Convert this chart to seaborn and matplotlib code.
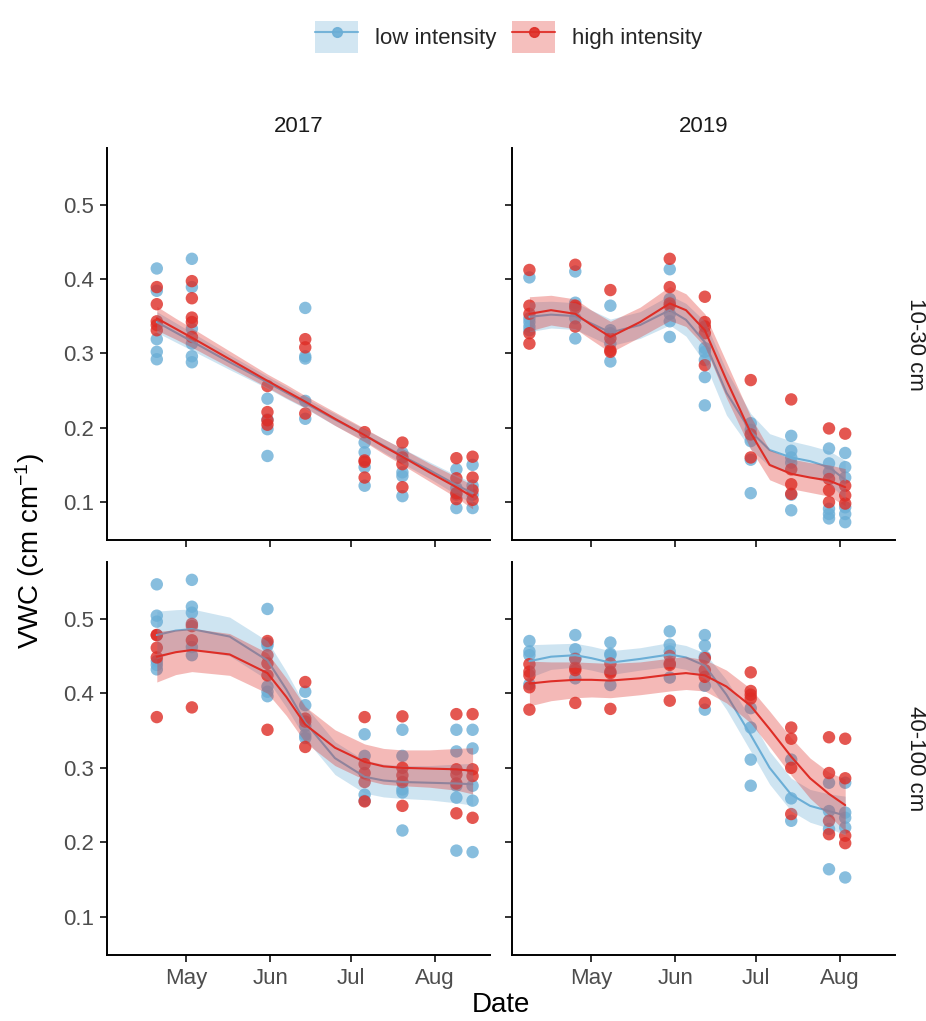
import numpy as np
import pandas as pd
import matplotlib
matplotlib.use("Agg")
import matplotlib.pyplot as plt
import matplotlib.dates as mdates
from matplotlib.patches import Patch
from matplotlib.lines import Line2D
from matplotlib.legend_handler import HandlerTuple
import seaborn as sns

# ---------------- data ----------------
years = ["2017", "2019"]
depths = ["10-30 cm", "40-100 cm"]
treatments = ["low intensity", "high intensity"]
palette = {"low intensity": "#6BAED6", "high intensity": "#DE2D26"}

dates_2017 = ["04-20", "05-03", "05-31", "06-14", "07-06", "07-20", "08-09", "08-15"]
dates_2019 = ["04-08", "04-25", "05-08", "05-30", "06-12", "06-29", "07-14", "07-28", "08-03"]

low_2017_shallow = [
    [0.414, 0.384, 0.319, 0.302, 0.292],
    [0.427, 0.389, 0.333, 0.313, 0.296, 0.288],
    [0.239, 0.211, 0.198, 0.162],
    [0.361, 0.296, 0.293, 0.236, 0.212],
    [0.180, 0.167, 0.147, 0.122],
    [0.166, 0.140, 0.135, 0.108],
    [0.144, 0.119, 0.110, 0.092],
    [0.150, 0.122, 0.110, 0.092],
]
high_2017_shallow = [
    [0.389, 0.366, 0.343, 0.338, 0.331],
    [0.397, 0.374, 0.348, 0.342, 0.322],
    [0.256, 0.221, 0.210, 0.204],
    [0.319, 0.308, 0.219],
    [0.194, 0.156, 0.154, 0.133],
    [0.180, 0.160, 0.151, 0.120],
    [0.159, 0.132, 0.112, 0.104],
    [0.161, 0.133, 0.116, 0.103],
]
low_2017_deep = [
    [0.546, 0.504, 0.496, 0.443, 0.438, 0.432],
    [0.552, 0.516, 0.508, 0.462, 0.451],
    [0.513, 0.467, 0.464, 0.409, 0.402, 0.396],
    [0.402, 0.384, 0.356, 0.344, 0.340],
    [0.345, 0.316, 0.264, 0.256],
    [0.351, 0.316, 0.271, 0.267, 0.216],
    [0.351, 0.322, 0.276, 0.260, 0.189],
    [0.351, 0.326, 0.276, 0.256, 0.187],
]
high_2017_deep = [
    [0.478, 0.478, 0.461, 0.448, 0.368],
    [0.493, 0.490, 0.471, 0.381],
    [0.470, 0.451, 0.440, 0.424, 0.351],
    [0.415, 0.366, 0.362, 0.328],
    [0.368, 0.305, 0.293, 0.281, 0.255],
    [0.369, 0.300, 0.290, 0.281, 0.249],
    [0.372, 0.298, 0.291, 0.279, 0.239],
    [0.372, 0.298, 0.289, 0.233],
]
low_2019_shallow = [
    [0.402, 0.347, 0.342, 0.336, 0.331],
    [0.410, 0.368, 0.347, 0.320],
    [0.364, 0.331, 0.327, 0.313, 0.289],
    [0.413, 0.373, 0.353, 0.343, 0.322],
    [0.307, 0.302, 0.291, 0.268, 0.230],
    [0.206, 0.197, 0.182, 0.157, 0.112],
    [0.189, 0.169, 0.160, 0.153, 0.110, 0.089],
    [0.172, 0.152, 0.140, 0.091, 0.084, 0.078],
    [0.166, 0.147, 0.133, 0.093, 0.084, 0.073],
]
high_2019_shallow = [
    [0.412, 0.364, 0.353, 0.327, 0.313],
    [0.419, 0.364, 0.361, 0.336],
    [0.385, 0.320, 0.304, 0.302],
    [0.427, 0.389, 0.367, 0.364],
    [0.376, 0.342, 0.336, 0.327, 0.284],
    [0.264, 0.191, 0.160],
    [0.238, 0.144, 0.124, 0.111],
    [0.199, 0.131, 0.116, 0.100],
    [0.192, 0.122, 0.109, 0.098],
]
low_2019_deep = [
    [0.470, 0.456, 0.451, 0.412],
    [0.478, 0.459, 0.447, 0.420],
    [0.468, 0.453, 0.451, 0.411],
    [0.483, 0.465, 0.456, 0.421],
    [0.478, 0.464, 0.449, 0.410, 0.378],
    [0.380, 0.354, 0.311, 0.276],
    [0.311, 0.259, 0.229],
    [0.280, 0.242, 0.218, 0.164],
    [0.280, 0.240, 0.233, 0.220, 0.153],
]
high_2019_deep = [
    [0.439, 0.429, 0.424, 0.408, 0.378],
    [0.446, 0.434, 0.431, 0.387],
    [0.440, 0.429, 0.427, 0.379],
    [0.450, 0.440, 0.438, 0.390],
    [0.447, 0.431, 0.422, 0.387],
    [0.428, 0.403, 0.398, 0.393],
    [0.354, 0.339, 0.300, 0.238],
    [0.341, 0.293, 0.229, 0.211],
    [0.339, 0.286, 0.209, 0.199],
]

# smooth fits (mean and half-width of confidence band)
fit_dates_2017 = ["04-20", "04-27", "05-03", "05-17", "05-31", "06-07", "06-14",
                  "06-25", "07-06", "07-13", "07-20", "07-30", "08-09", "08-15"]
fit_dates_2019 = ["04-08", "04-16", "04-25", "05-01", "05-08", "05-19", "05-30", "06-05",
                  "06-12", "06-20", "06-29", "07-06", "07-14", "07-21", "07-28", "08-03"]

low_2017_shallow_fit = [0.342, 0.328, 0.316, 0.288, 0.261, 0.247, 0.233, 0.211, 0.190, 0.176, 0.162, 0.143, 0.123, 0.112]
low_2017_shallow_ci = [0.014, 0.013, 0.012, 0.010, 0.008, 0.008, 0.007, 0.008, 0.008, 0.009, 0.010, 0.011, 0.013, 0.014]
high_2017_shallow_fit = [0.347, 0.333, 0.321, 0.292, 0.263, 0.249, 0.235, 0.212, 0.190, 0.175, 0.161, 0.140, 0.120, 0.107]
high_2017_shallow_ci = [0.016, 0.014, 0.013, 0.011, 0.009, 0.009, 0.008, 0.009, 0.009, 0.010, 0.011, 0.012, 0.014, 0.016]

low_2017_deep_fit = [0.478, 0.484, 0.486, 0.476, 0.444, 0.405, 0.361, 0.313, 0.288, 0.283, 0.281, 0.280, 0.279, 0.278]
low_2017_deep_ci = [0.032, 0.028, 0.027, 0.026, 0.026, 0.024, 0.022, 0.022, 0.022, 0.022, 0.022, 0.023, 0.026, 0.028]
high_2017_deep_fit = [0.449, 0.455, 0.458, 0.452, 0.427, 0.395, 0.358, 0.327, 0.308, 0.302, 0.300, 0.299, 0.298, 0.296]
high_2017_deep_ci = [0.034, 0.030, 0.029, 0.028, 0.027, 0.025, 0.024, 0.024, 0.024, 0.024, 0.024, 0.025, 0.028, 0.031]

low_2019_shallow_fit = [0.349, 0.352, 0.350, 0.340, 0.328, 0.338, 0.358, 0.345, 0.315, 0.247, 0.195, 0.170, 0.160, 0.155, 0.147, 0.130]
low_2019_shallow_ci = [0.020, 0.018, 0.018, 0.018, 0.018, 0.018, 0.020, 0.022, 0.028, 0.030, 0.024, 0.022, 0.022, 0.021, 0.022, 0.026]
high_2019_shallow_fit = [0.353, 0.358, 0.353, 0.338, 0.322, 0.342, 0.367, 0.358, 0.331, 0.264, 0.193, 0.150, 0.138, 0.133, 0.129, 0.120]
high_2019_shallow_ci = [0.023, 0.020, 0.020, 0.020, 0.021, 0.020, 0.023, 0.022, 0.022, 0.024, 0.022, 0.020, 0.020, 0.020, 0.021, 0.025]

low_2019_deep_fit = [0.443, 0.449, 0.451, 0.447, 0.441, 0.446, 0.452, 0.448, 0.437, 0.398, 0.344, 0.300, 0.264, 0.249, 0.242, 0.236]
low_2019_deep_ci = [0.022, 0.017, 0.016, 0.016, 0.016, 0.015, 0.016, 0.016, 0.017, 0.020, 0.022, 0.022, 0.022, 0.022, 0.023, 0.026]
high_2019_deep_fit = [0.413, 0.416, 0.418, 0.418, 0.417, 0.420, 0.425, 0.427, 0.424, 0.409, 0.383, 0.352, 0.315, 0.286, 0.265, 0.250]
high_2019_deep_ci = [0.030, 0.026, 0.024, 0.023, 0.023, 0.022, 0.022, 0.022, 0.021, 0.022, 0.023, 0.024, 0.025, 0.027, 0.029, 0.035]

# ---------------- assemble tables ----------------
def to_date(md):
    # common (dummy) year so both panels share the day-of-year axis
    return pd.Timestamp("2000-" + md)

point_sets = {
    ("2017", "10-30 cm"): (dates_2017, low_2017_shallow, high_2017_shallow),
    ("2017", "40-100 cm"): (dates_2017, low_2017_deep, high_2017_deep),
    ("2019", "10-30 cm"): (dates_2019, low_2019_shallow, high_2019_shallow),
    ("2019", "40-100 cm"): (dates_2019, low_2019_deep, high_2019_deep),
}
fit_sets = {
    ("2017", "10-30 cm"): (fit_dates_2017, (low_2017_shallow_fit, low_2017_shallow_ci), (high_2017_shallow_fit, high_2017_shallow_ci)),
    ("2017", "40-100 cm"): (fit_dates_2017, (low_2017_deep_fit, low_2017_deep_ci), (high_2017_deep_fit, high_2017_deep_ci)),
    ("2019", "10-30 cm"): (fit_dates_2019, (low_2019_shallow_fit, low_2019_shallow_ci), (high_2019_shallow_fit, high_2019_shallow_ci)),
    ("2019", "40-100 cm"): (fit_dates_2019, (low_2019_deep_fit, low_2019_deep_ci), (high_2019_deep_fit, high_2019_deep_ci)),
}

rows = []
for (yr, dp), (dts, low, high) in point_sets.items():
    for trt, groups in zip(treatments, (low, high)):
        for d, vals in zip(dts, groups):
            for v in vals:
                rows.append(dict(year=yr, depth=dp, treatment=trt, date=to_date(d), vwc=v))
points = pd.DataFrame(rows)

frows = []
for (yr, dp), (dts, lowf, highf) in fit_sets.items():
    for trt, (fit, ci) in zip(treatments, (lowf, highf)):
        for d, m, h in zip(dts, fit, ci):
            frows.append(dict(year=yr, depth=dp, treatment=trt, date=to_date(d),
                              fit=m, lo=m - h, hi=m + h))
fits = pd.DataFrame(frows)

# ---------------- style ----------------
sns.set_theme(style="ticks")
plt.rcParams["font.family"] = ["Liberation Sans", "DejaVu Sans"]
plt.rcParams["mathtext.default"] = "regular"

W, H = 926, 1021
fig = plt.figure(figsize=(W / 100, H / 100), dpi=100)

col_x = {"2017": (107, 490), "2019": (512, 895)}
row_y = {"10-30 cm": (148, 540), "40-100 cm": (562, 955)}

# shared limits (ggplot-like 5% expansion)
dmin, dmax = points["date"].min(), points["date"].max()
span = dmax - dmin
xlim = (dmin - span * 0.05, dmax + span * 0.05)
ymin = min(points["vwc"].min(), fits["lo"].min())
ymax = max(points["vwc"].max(), fits["hi"].max())
yr_ = ymax - ymin
ylim = (ymin - 0.05 * yr_, ymax + 0.05 * yr_)

tick_col = "#4D4D4D"
fs_tick = 16
fs_title = 20

for ci_, yr in enumerate(years):
    for ri, dp in enumerate(depths):
        x0, x1 = col_x[yr]
        y0, y1 = row_y[dp]
        ax = fig.add_axes([x0 / W, 1 - y1 / H, (x1 - x0) / W, (y1 - y0) / H])
        sub = points[(points.year == yr) & (points.depth == dp)]
        sns.scatterplot(data=sub, x="date", y="vwc", hue="treatment",
                        hue_order=treatments, palette=palette, s=80,
                        alpha=0.8, linewidth=0, legend=False, ax=ax, zorder=2)
        fsub = fits[(fits.year == yr) & (fits.depth == dp)]
        for k, trt in enumerate(treatments):
            g = fsub[fsub.treatment == trt]
            ax.fill_between(g["date"], g["lo"], g["hi"], color=palette[trt],
                            alpha=0.33, linewidth=0, zorder=3 + 2 * k)
            sns.lineplot(x=g["date"], y=g["fit"], color=palette[trt],
                         linewidth=1.5, ax=ax, zorder=4 + 2 * k)
        ax.set_xlim(xlim)
        ax.set_ylim(ylim)
        ax.set_xlabel("")
        ax.set_ylabel("")
        ax.set_yticks([0.1, 0.2, 0.3, 0.4, 0.5])
        ax.yaxis.set_major_formatter(matplotlib.ticker.FormatStrFormatter("%.1f"))
        ax.xaxis.set_major_locator(mdates.MonthLocator(bymonth=[5, 6, 7, 8]))
        ax.xaxis.set_major_formatter(mdates.DateFormatter("%b"))
        for s in ("top", "right"):
            ax.spines[s].set_visible(False)
        for s in ("left", "bottom"):
            ax.spines[s].set_linewidth(1.4)
            ax.spines[s].set_color("black")
        ax.tick_params(direction="out", length=5, width=1.4, color="#333333",
                       labelsize=fs_tick, labelcolor=tick_col, pad=4)
        ax.tick_params(labelbottom=(ri == 1), labelleft=(ci_ == 0))
        ax.set_facecolor("white")
        if ri == 0:
            ax.text(0.5, 1.0 + 21 / (y1 - y0), yr, transform=ax.transAxes,
                    ha="center", va="center", fontsize=fs_tick, color="#1A1A1A")
        if ci_ == 1:
            ax.text(1.0 + 20 / (x1 - x0), 0.5, dp, transform=ax.transAxes,
                    ha="center", va="center", rotation=-90, fontsize=fs_tick,
                    color="#1A1A1A")

fig.text(30 / W, 1 - 551 / H, "VWC (cm cm$^{-1}$)", rotation=90, ha="center",
         va="center", fontsize=fs_title, color="black")
fig.text(501 / W, 1 - 1005 / H, "Date", ha="center", va="center",
         fontsize=fs_title, color="black")

handles = []
for trt in treatments:
    handles.append((Patch(facecolor=palette[trt], alpha=0.3, edgecolor="none"),
                    Line2D([], [], color=palette[trt], lw=1.5, marker="o",
                           markersize=7, alpha=0.9)))
fig.legend(handles, treatments, loc="center", bbox_to_anchor=(509 / W, 1 - 37 / H),
           ncol=2, frameon=False, fontsize=fs_tick,
           handler_map={tuple: HandlerTuple(ndivide=1, pad=0)},
           handlelength=1.9, handleheight=1.9, handletextpad=0.8,
           columnspacing=0.7, borderpad=0)

fig.savefig("out.png", dpi=100, facecolor="white")
